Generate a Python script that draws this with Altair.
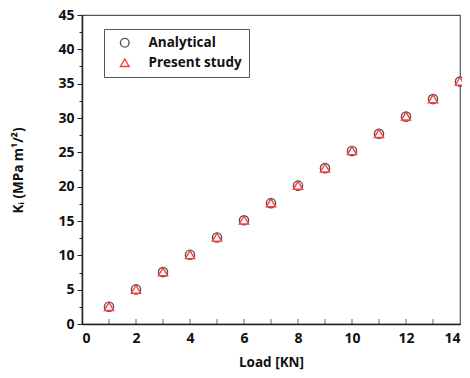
import altair as alt
import pandas as pd

loads = [1, 2, 3, 4, 5, 6, 7, 8, 9, 10, 11, 12, 13, 14]
analytical = [2.52, 5.04, 7.56, 10.08, 12.6, 15.1, 17.6, 20.15, 22.7, 25.2, 27.7, 30.2, 32.75, 35.3]
present = [2.55, 5.06, 7.6, 10.1, 12.65, 15.15, 17.65, 20.2, 22.72, 25.25, 27.75, 30.28, 32.8, 35.35]
series = ["Analytical", "Present study"]
x_minor_ticks = [1, 2, 3, 4, 5, 6, 7, 8, 9, 10, 11, 12, 13]
y_tick_values = [i * 2.5 for i in range(19)]

rows = []
for name, vals in zip(series, [analytical, present]):
    for l, v in zip(loads, vals):
        rows.append({"Load": l, "K": v, "Series": name})
df = pd.DataFrame(rows)
ticks_df = pd.DataFrame({"t": x_minor_ticks})

FONT = "Open Sans"

x_scale = alt.Scale(domain=[0, 14], nice=False, zero=False)
y_scale = alt.Scale(domain=[0, 45], nice=False)

points = alt.Chart(df).mark_point(
    filled=False, fill="white", fillOpacity=1, size=85, strokeWidth=1.4, opacity=1
).encode(
    x=alt.X("Load:Q", scale=x_scale,
            axis=alt.Axis(title="Load [KN]", values=[0, 2, 4, 6, 8, 10, 12, 14],
                          ticks=False, grid=False, labelPadding=7,
                          titleY=38, titleBaseline="middle")),
    y=alt.Y("K:Q", scale=y_scale,
            axis=alt.Axis(title="Kᵢ (MPa m¹/²)", values=y_tick_values, grid=False,
                          labelExpr="datum.value % 5 == 0 ? datum.label : ''",
                          tickSize={"condition": {"test": "datum.value % 5 != 0", "value": 3}, "value": 5},
                          labelPadding=3,
                          titleAngle=270, titleX=-64, titleY=155,
                          titleAlign="center", titleBaseline="middle")),
    color=alt.Color("Series:N", scale=alt.Scale(domain=series, range=["#555555", "#ff3b3b"]),
                    legend=alt.Legend(title=None, orient="none", legendX=22, legendY=14,
                                      strokeColor="#555555", fillColor="white", padding=7,
                                      symbolOffset=7, labelOffset=17, symbolSize=75,
                                      symbolStrokeWidth=1.4, rowPadding=5,
                                      labelExpr="datum.label + '         '",
                                      labelFont=FONT, labelFontSize=13.5, labelFontWeight="bold",
                                      labelColor="#111111")),
    shape=alt.Shape("Series:N", scale=alt.Scale(domain=series, range=["circle", "triangle-up"]),
                    legend=alt.Legend(title=None, orient="none", legendX=22, legendY=14)),
    order=alt.Order("Series:N"),
)

xticks = alt.Chart(ticks_df).mark_tick(orient="vertical", size=5, thickness=1, color="#222222").encode(
    x=alt.X("t:Q", scale=x_scale),
    y=alt.value(306.5),
)

chart = alt.layer(xticks, points).properties(
    width=378, height=309,
    autosize=alt.AutoSizeParams(type="none"),
    padding={"left": 74, "top": 7, "right": 2, "bottom": 46},
).configure_view(
    stroke="#555555", strokeWidth=1.2
).configure_axis(
    domainColor="#222222", domainWidth=1.5, tickColor="#222222", tickWidth=1,
    labelFont=FONT, labelFontSize=14, labelFontWeight="bold", labelColor="#111111",
    titleFont=FONT, titleFontSize=13.5, titleFontWeight="bold", titleColor="#111111",
)

chart.save("out.html", embed_options={"renderer": "svg", "actions": False})
